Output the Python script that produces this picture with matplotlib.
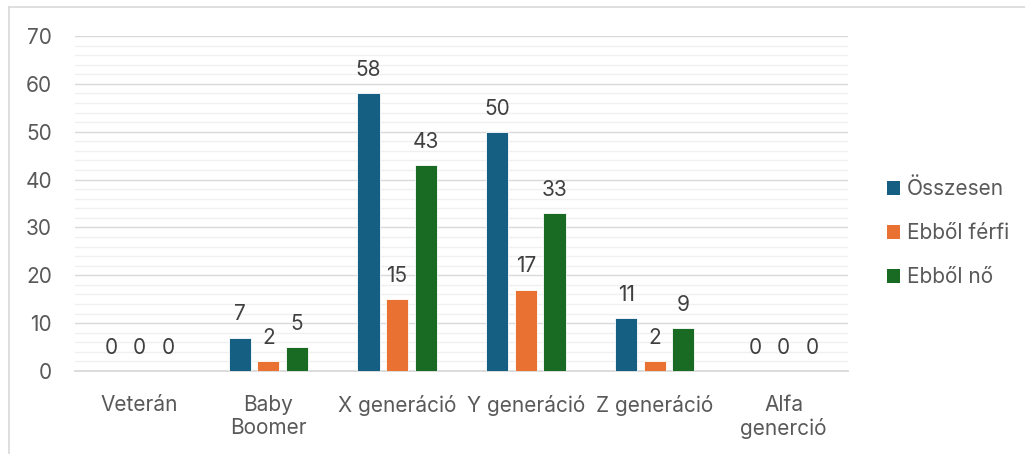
import matplotlib
matplotlib.use("Agg")
import matplotlib.pyplot as plt
import numpy as np
from matplotlib.patches import Patch
from matplotlib.lines import Line2D

categories = ["Veterán", "Baby\nBoomer", "X generáció", "Y generáció", "Z generáció", "Alfa\ngenerció"]
series_names = ["Összesen", "Ebből férfi", "Ebből nő"]
osszesen = [0, 7, 58, 50, 11, 0]
ferfi = [0, 2, 15, 17, 2, 0]
no = [0, 5, 43, 33, 9, 0]
colors = ["#156082", "#E97132", "#196B24"]
yticks = [0, 10, 20, 30, 40, 50, 60, 70]

plt.rcParams['font.family'] = ['Inter', 'DejaVu Sans']
text_color = "#595959"
fs = 15

fig = plt.figure(figsize=(10.25, 4.54), dpi=100)
W, H = 1025, 454
ax = fig.add_axes([75 / W, 1 - 371 / H, (848 - 75) / W, (371 - 36) / H])

x = np.arange(len(categories))
bw = 0.172
step = 0.222
for i, (vals, name, c) in enumerate(zip([osszesen, ferfi, no], series_names, colors)):
    pos = x + (i - 1) * step
    ax.bar(pos, vals, width=bw, color=c, edgecolor="white", linewidth=0.6, label=name, zorder=3)
    for p, v in zip(pos, vals):
        ax.annotate(str(v), (p, v), xytext=(0, 9.5), textcoords="offset points",
                    ha="center", va="bottom", fontsize=fs, color="#404040")

ax.set_xlim(-0.5, len(categories) - 0.5)
ax.set_ylim(0, 70)
ax.set_yticks(yticks)
ax.set_yticks(np.arange(0, 71, 2), minor=True)
ax.set_xticks(x)
ax.set_xticklabels(categories, fontsize=fs, color=text_color, linespacing=1.2)
ax.tick_params(axis="y", labelsize=fs, labelcolor=text_color, length=0, pad=16.5)
ax.tick_params(axis="x", length=0, pad=17)
ax.tick_params(which="minor", length=0)
ax.grid(axis="y", which="major", color="#D9D9D9", linewidth=1.0, zorder=0)
ax.grid(axis="y", which="minor", color="#F0F0F0", linewidth=1.0, zorder=0)
for s in ["top", "right", "left"]:
    ax.spines[s].set_visible(False)
ax.spines["bottom"].set_color("#D9D9D9")
ax.spines["bottom"].set_linewidth(1.3)

handles = [Patch(facecolor=c, edgecolor="none") for c in colors]
leg = fig.legend(handles, series_names, loc="center left", bbox_to_anchor=(887 / W, 1 - 233 / H),
                 frameon=False, fontsize=fs, labelspacing=1.15, handlelength=0.62, handleheight=0.62,
                 handletextpad=0.35, borderaxespad=0, borderpad=0)
for t in leg.get_texts():
    t.set_color(text_color)

# outer chart border (left and top visible)
fig.add_artist(Line2D([9 / W, 9 / W], [0, 1 - 7 / H], color="#D9D9D9", linewidth=1.2, transform=fig.transFigure))
fig.add_artist(Line2D([9 / W, 1], [1 - 7 / H, 1 - 7 / H], color="#D9D9D9", linewidth=1.2, transform=fig.transFigure))

fig.savefig("out.png", dpi=100, facecolor="white")
